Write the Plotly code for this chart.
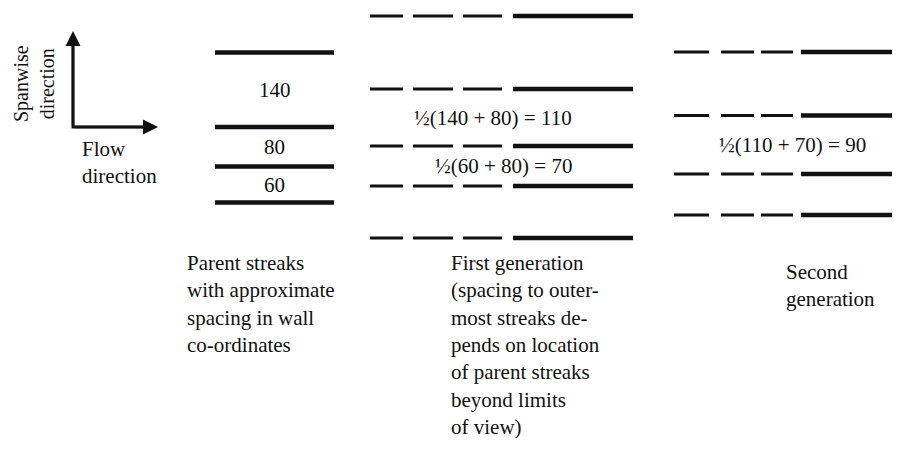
import plotly.graph_objects as go

# ---- data (diagram units: x and y in drawing coordinates, y downward) ----
parent_streak_y = [52.5, 127, 166.5, 202.5]
parent_spacing_labels = ["140", "80", "60"]

first_gen_streak_y = [16, 89, 146, 186, 238]
first_gen_labels = ["½(140 + 80) = 110", "½(60 + 80) = 70"]
first_gen_label_gaps = [1, 2]          # label sits between streak i and i+1

second_gen_streak_y = [52, 115.5, 174, 215]
second_gen_labels = ["½(110 + 70) = 90"]
second_gen_label_gaps = [1]

captions = [
    "Parent streaks<br>with approximate<br>spacing in wall<br>co-ordinates",
    "First generation<br>(spacing to outer-<br>most streaks de-<br>pends on location<br>of parent streaks<br>beyond limits<br>of view)",
    "Second<br>generation",
]

# ---- layout / style constants ----
PAGE_W, PAGE_H = 900, 459
BODY_MARGIN = 8          # default HTML body margin offsets the figure
W, H = PAGE_W - BODY_MARGIN, PAGE_H - BODY_MARGIN
FONT = "Liberation Serif, Times New Roman, serif"
FS = 21
INK = "#111111"

parent_span = (215, 334)
first_dashes = [(370, 403), (413, 453), (463, 502)]
first_solid = (513, 633)
second_dashes = [(674, 709), (721, 754), (761, 793)]
second_solid = (801, 900)

fig = go.Figure()


def seg_xy(spans, ys):
    xs, yy = [], []
    for y in ys:
        for a, b in spans:
            xs += [a, b, None]
            yy += [y, y, None]
    return xs, yy


def add_lines(spans, ys, width):
    xs, yy = seg_xy(spans, ys)
    fig.add_trace(go.Scatter(x=xs, y=yy, mode="lines",
                             line=dict(color=INK, width=width),
                             hoverinfo="skip", showlegend=False))


# parent streaks
add_lines([parent_span], parent_streak_y, 4.5)
# first generation
add_lines(first_dashes, first_gen_streak_y, 3)
add_lines([first_solid], first_gen_streak_y, 4.5)
# second generation
add_lines(second_dashes, second_gen_streak_y, 3)
add_lines([second_solid], second_gen_streak_y, 4.5)

ann = []
txt = dict(family=FONT, size=FS, color=INK)

# parent spacing labels (midway between streaks)
pcx = (parent_span[0] + parent_span[1]) / 2
for i, lab in enumerate(parent_spacing_labels):
    ym = (parent_streak_y[i] + parent_streak_y[i + 1]) / 2
    ann.append(dict(x=pcx, y=ym, text=lab, showarrow=False, font=txt,
                    xanchor="center", yanchor="middle"))

for lab, g in zip(first_gen_labels, first_gen_label_gaps):
    ym = (first_gen_streak_y[g] + first_gen_streak_y[g + 1]) / 2
    ann.append(dict(x=574, y=ym, text=lab, showarrow=False, font=txt,
                    xanchor="right", yanchor="middle"))

for lab, g in zip(second_gen_labels, second_gen_label_gaps):
    ym = (second_gen_streak_y[g] + second_gen_streak_y[g + 1]) / 2
    ann.append(dict(x=868, y=ym, text=lab, showarrow=False, font=txt,
                    xanchor="right", yanchor="middle"))

# captions
cap_pos = [(185, 249), (449, 249), (784, 258)]
for c, (cx, cy) in zip(captions, cap_pos):
    ann.append(dict(x=cx, y=cy, text=c, showarrow=False, font=txt,
                    xanchor="left", yanchor="top", align="left"))

# direction indicator
corner = (73, 127)
fig.add_trace(go.Scatter(x=[corner[0], corner[0], 150], y=[40, corner[1], corner[1]],
                         mode="lines", line=dict(color=INK, width=3),
                         hoverinfo="skip", showlegend=False))
for tip in [(corner[0], 31), (158, corner[1])]:
    ann.append(dict(x=tip[0], y=tip[1], ax=corner[0], ay=corner[1],
                    xref="x", yref="y", axref="x", ayref="y", text="",
                    showarrow=True, arrowhead=2, arrowsize=1.2, arrowwidth=2.5,
                    arrowcolor=INK, standoff=0))

ann.append(dict(x=34, y=84, text="Spanwise<br>direction", showarrow=False,
                font=dict(family=FONT, size=20, color=INK), textangle=-90,
                xanchor="center", yanchor="middle", align="center", borderpad=0))
ann.append(dict(x=80, y=135, text="Flow<br>direction", showarrow=False,
                font=txt, xanchor="left", yanchor="top", align="left"))

fig.update_layout(
    width=W, height=H, margin=dict(l=0, r=0, t=0, b=0),
    paper_bgcolor="white", plot_bgcolor="white",
    xaxis=dict(range=[BODY_MARGIN, PAGE_W], visible=False, fixedrange=True),
    yaxis=dict(range=[PAGE_H, BODY_MARGIN], visible=False, fixedrange=True),
    annotations=ann, showlegend=False,
)

fig.write_html("out.html")
